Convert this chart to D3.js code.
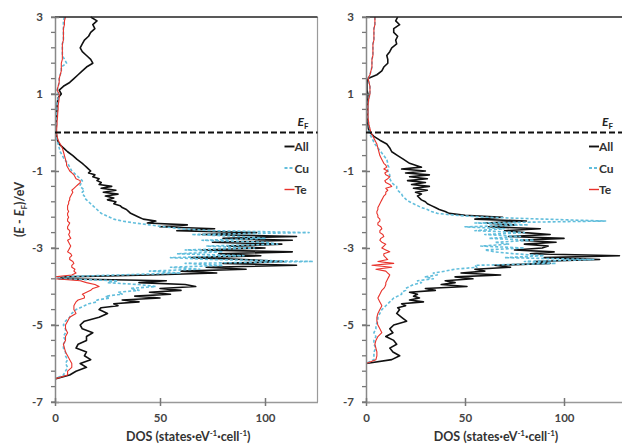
<!DOCTYPE html>
<html>
<head>
<meta charset="utf-8">
<script src="https://cdn.jsdelivr.net/npm/d3@7"></script>
<style>
  body { margin: 0; background: #fff; }
  svg text { font-family: Lato, "Open Sans", sans-serif; }
</style>
</head>
<body>
<svg id="chart" width="622" height="447"></svg>
<script>
// energy grid (eV, relative to E_F), top to bottom:
// 0.1 eV steps down to -0.7, 0.05 eV through the d-band, 0.1 eV below -4.6
var energy = [].concat(
    d3.range(300, -80, -10),
    d3.range(-80, -460, -5),
    d3.range(-460, -701, -10)
).map(function(k) { return k / 100; });

// left panel
var leftAll = [17,20,18,19,17,16,14,13,12,13, 15,17,18,15,13,11,9,7,4,2,
  3,1.5,1.2,1,1,0.8,0.7,0.6,0.5,0.4, 0.5,0.8,1.2,2,4,6,8.5,10.5,
  13,14,15,16,17,16,19,18,21,20,22,21,27,22,29,23,30,24,28,25,29,28,31,32,
  34,35,36,38,40,42,48,44,63,50,76,58,96,70,115,80,113,75,108,82,
  100,70,113,78,98,65,90,109,80,115,72,91,60,77,45,4,2,53,40,62,
  67,50,60,45,55,38,50,32,40,28,30,22,
  21,25,21,14,12,13,18,15,15,11,10,15,14,17,12,15,10,7,0,0,0,0,0,0,0];
var leftCu = [4.5,4,4,4,4,4,4,3.5,3.5,3.5, 3.5,4.5,5.5,3,3,2.5,2,2,1.5,1,
  1.5,1.5,1.2,1,1,0.8,0.7,0.6,0.5,0.4, 0.3,0.5,1,1.5,2,2.5,3.5,4.5,
  6,6.5,7,7.5,8,9,10,11,12,13,13,12,12,13,14,13,13,14,14,15,16,17,18,19,
  20,21,22,24,26,28,32,38,45,52,60,75,121,65,88,100,70,100,106,72,
  95,62,80,58,90,55,75,123,62,80,55,69,45,60,30,2,1,30,25,40,
  48,36,40,30,32,24,26,20,20,16,14,12,
  10,8,7,5,4,5,5,4,5,4,4,5,5,6,5,6,5,4,0,0,0,0,0,0,0];
var leftTe = [5,4.5,4.5,4,4,4,4,3.5,3.5,3.5, 3.5,3.5,3,3,3,2.5,2,2,1.5,1,
  2,2,1.8,1.5,1.5,1.3,1.2,1,1,0.8, 0.8,1,1.5,2.5,3.5,4,4.5,5,
  5.5,5.5,6,6.5,7,8,9,9.5,10,12,12,11,10,9,8,8.5,8,7.5,7,7,6.5,6.5,6,6,
  6,6.5,6,6,6.5,6,6,7,6.5,6,6,7,7,6.5,7,7.5,6,6.5,7,7.5,
  7,6.5,6,7.5,8,7,7,8.5,9,8,8,9.5,9,10,8,0,0,12,15,19,
  21,18,17,15,13,14,14,11,10,9.5,9,9,
  9,10,7,6,5,5,6,5,5,4,4.5,5,6,7,8,8,6,6,0,0,0,0,0,0,0];

// right panel
var rightAll = [16,15,17,14,14,16,15,15.5,13,12, 10.5,11,11,9,8,5.5,1,0.5,0.5,0.5,
  1,1,0.8,0.8,0.8,0.8,0.7,0.8,1,1.2, 2,4,7,10.5,12,13,16,19,
  22,25,28,18,30,20,32,22,31,21,30,23,32,24,31,25,28,26,27,28,30,31,33,35,
  37,40,42,50,69,55,81,60,75,62,88,70,80,93,72,100,78,96,80,92,
  89,75,95,83,128,90,118,85,93,65,73,55,60,48,68,45,54,40,45,38,
  51,30,35,22,26,24,27,22,29,18,20,16,
  17,15.5,18,20.5,14,12,13.6,10,14,15.5,12,13.6,17,13,0,0,0,0,0,0,0,0,0,0,0];
var rightCu = [4.5,4.5,4.5,4,4,4,4,3.5,3.5,3.5, 3.5,3,3,3,2.5,2,1,1.5,2,2,
  2,1.5,1.2,1,1,1,1,1.2,1.5,1.8, 1.5,2.5,3.5,4.5,6,7.5,9,10.5,
  11,11,11.5,11,11,11.5,12,12,12,12.5,13,14,15.5,15.5,16,17,18,18.5,19.5,20.5,22,24,26,28,
  31,33,36,45,60,90,121,55,82,50,70,55,80,60,78,62,85,65,72,58,
  80,60,65,75,90,70,115,80,96,55,56,45,40,34,36,30,34,26,28,24,
  22,20,20,18,18,16,14,13,12,11,10,9,
  8,7,6,6,5,5,4,5,4,4,5,4,4,4,0,0,0,0,0,0,0,0,0,0,0];
var rightTe = [4.5,4.5,4.5,4,4,4,4,3.5,3.5,3.5, 3.5,3,3,3,2.5,2,1,1.5,2,2,
  2,1.5,1.2,1,1,1,1,1.2,1.5,2, 2.5,3.5,4.5,5.5,6,6.5,7,8,
  9,10,10.5,9,11,9.5,10,12,11,9.5,10,12,13,10,11,10,10,9,8.5,8,7.5,7,6.5,6,
  6,5.5,5.5,6,6,7,7,6,6,7.5,8,7,7,8.5,9,7.5,7,8,10,9,
  8,10,12,9,9,10,11,6,14,3,13,5,10,11,12,11.5,11,10.5,10,10,
  9.6,9,8,7.5,7,6.5,6,6.5,7,7.5,8,7.5,
  7,6,5.5,5.5,6,7,8,6,5,4.5,5,5.5,5.5,5,0,0,0,0,0,0,0,0,0,0,0];

var xTicks = [0, 50, 100];
var yTicks = [3, 1, -1, -3, -5, -7];
var yMinor = d3.range(-70, 31, 4).map(function(k) { return k / 10; });

var seriesNames = ["All", "Cu", "Te"];
var seriesStyle = {
  All: { color: "#111111", width: 1.6, dash: null },
  Cu:  { color: "#62bedc", width: 1.6, dash: "3,2" },
  Te:  { color: "#e8322b", width: 1.1, dash: null }
};

var svg = d3.select("#chart");
var y = d3.scaleLinear().domain([-7, 3]).range([402, 17]);

function drawPanel(id, xScale, data, showYLabel) {
    var x0 = xScale.range()[0], x1 = xScale.range()[1];
    var xr = Math.min(x1, 622);
    var g = svg.append("g").attr("class", "panel-" + id);

    g.append("clipPath").attr("id", "clip-" + id)
      .append("rect")
        .attr("x", x0).attr("y", y(3) - 1)
        .attr("width", x1 - x0).attr("height", y(-7) - y(3) + 2);

    // curves: All, then Cu, then Te on top
    var line = d3.line()
        .x(function(d) { return xScale(d[1]); })
        .y(function(d) { return y(d[0]); });

    seriesNames.forEach(function(name) {
        var st = seriesStyle[name];
        var pts = energy.map(function(e, i) { return [e, data[name][i]]; });
        g.append("path")
            .attr("clip-path", "url(#clip-" + id + ")")
            .attr("d", line(pts))
            .attr("fill", "none")
            .attr("stroke", st.color)
            .attr("stroke-width", st.width)
            .attr("stroke-dasharray", st.dash)
            .attr("stroke-linejoin", "round");
    });

    // frame: grey right border, black top
    g.append("line").attr("x1", x1).attr("x2", x1).attr("y1", y(3)).attr("y2", y(-7))
        .attr("stroke", "#9a9a9a").attr("stroke-width", 1.2);
    g.append("line").attr("x1", x0).attr("x2", x1).attr("y1", y(3)).attr("y2", y(3))
        .attr("stroke", "#222").attr("stroke-width", 1.5);

    // y axis
    var yAxis = d3.axisLeft(y).tickValues(yTicks).tickSize(0)
        .tickFormat(function(d) { return d; });
    var ya = g.append("g").attr("transform", "translate(" + x0 + ",0)").call(yAxis);
    ya.select(".domain").attr("stroke", "#888").attr("stroke-width", 1.5);
    ya.selectAll(".tick text").attr("x", -12).attr("fill", "#444")
        .attr("font-size", 11.5).attr("font-weight", "bold").attr("font-family", "Lato");
    ya.selectAll(".tick").append("line").attr("x1", -4).attr("x2", 4)
        .attr("stroke", "#777").attr("stroke-width", 1.5);
    ya.selectAll(".minor").data(yMinor).enter().append("line")
        .attr("class", "minor")
        .attr("x1", -4).attr("x2", 0)
        .attr("y1", function(d) { return y(d); }).attr("y2", function(d) { return y(d); })
        .attr("stroke", "#777").attr("stroke-width", 1.3);

    // x axis
    var xAxis = d3.axisBottom(xScale).tickValues(xTicks).tickSize(0);
    var xa = g.append("g").attr("transform", "translate(0," + y(-7) + ")").call(xAxis);
    xa.select(".domain").attr("stroke", "#999").attr("stroke-width", 1.5);
    xa.selectAll(".tick text").attr("y", 12).attr("fill", "#444")
        .attr("font-size", 11.5).attr("font-weight", "bold").attr("font-family", "Lato");
    xa.selectAll(".tick").append("line").attr("y1", -4).attr("y2", 4)
        .attr("stroke", "#777").attr("stroke-width", 1.5);

    var xt = g.append("text")
        .attr("x", (x0 + xr) / 2 + 2).attr("y", 441)
        .attr("text-anchor", "middle")
        .attr("font-size", 12.5).attr("font-weight", "bold").attr("fill", "#333");
    xt.append("tspan").text("DOS (states\u00b7eV");
    xt.append("tspan").attr("font-size", 8).attr("dy", -5).text("-1");
    xt.append("tspan").attr("dy", 5).text("\u00b7cell");
    xt.append("tspan").attr("font-size", 8).attr("dy", -5).text("-1");
    xt.append("tspan").attr("dy", 5).text(")");

    // Fermi level
    g.append("line").attr("x1", x0).attr("x2", xr).attr("y1", y(0)).attr("y2", y(0))
        .attr("stroke", "#111").attr("stroke-width", 2).attr("stroke-dasharray", "6,3");
    var ef = g.append("text").attr("x", xr - 20).attr("y", y(0) - 7)
        .attr("font-size", 12).attr("font-weight", "bold").attr("fill", "#222");
    ef.append("tspan").attr("font-style", "italic").text("E");
    ef.append("tspan").attr("font-size", 8).attr("dy", 3).text("F");

    // legend
    seriesNames.forEach(function(name, i) {
        var st = seriesStyle[name];
        var ly = y(0) + 15 + i * 21.5;
        g.append("line").attr("x1", xr - 33).attr("x2", xr - 23)
            .attr("y1", ly - 1).attr("y2", ly - 1)
            .attr("stroke", st.color).attr("stroke-width", st.width + 0.3)
            .attr("stroke-dasharray", st.dash);
        g.append("text").attr("x", xr - 23).attr("y", ly + 3.5)
            .attr("font-size", 12).attr("font-weight", "bold").attr("fill", "#333")
            .text(name);
    });

    if (showYLabel) {
        var yl = g.append("text")
            .attr("transform", "translate(24," + y(-2.0) + ") rotate(-90)")
            .attr("text-anchor", "middle")
            .attr("font-size", 12.5).attr("font-weight", "bold").attr("fill", "#333");
        yl.append("tspan").text("(");
        yl.append("tspan").attr("font-style", "italic").text("E");
        yl.append("tspan").text(" - ");
        yl.append("tspan").attr("font-style", "italic").text("E");
        yl.append("tspan").attr("font-size", 8).attr("dy", 3).text("F");
        yl.append("tspan").attr("dy", -3).text(")/eV");
    }
}

var xLeft = d3.scaleLinear().domain([0, 125]).range([55, 317.5]);
var xRight = d3.scaleLinear().domain([0, 130]).range([366, 623.4]);

drawPanel("a", xLeft, { All: leftAll, Cu: leftCu, Te: leftTe }, true);
drawPanel("b", xRight, { All: rightAll, Cu: rightCu, Te: rightTe }, false);

[leftAll, leftCu, leftTe, rightAll, rightCu, rightTe].forEach(function(a, i) {
    if (a.length !== energy.length) console.error("series " + i + " has " + a.length + " values, expected " + energy.length);
});
</script>
</body>
</html>
